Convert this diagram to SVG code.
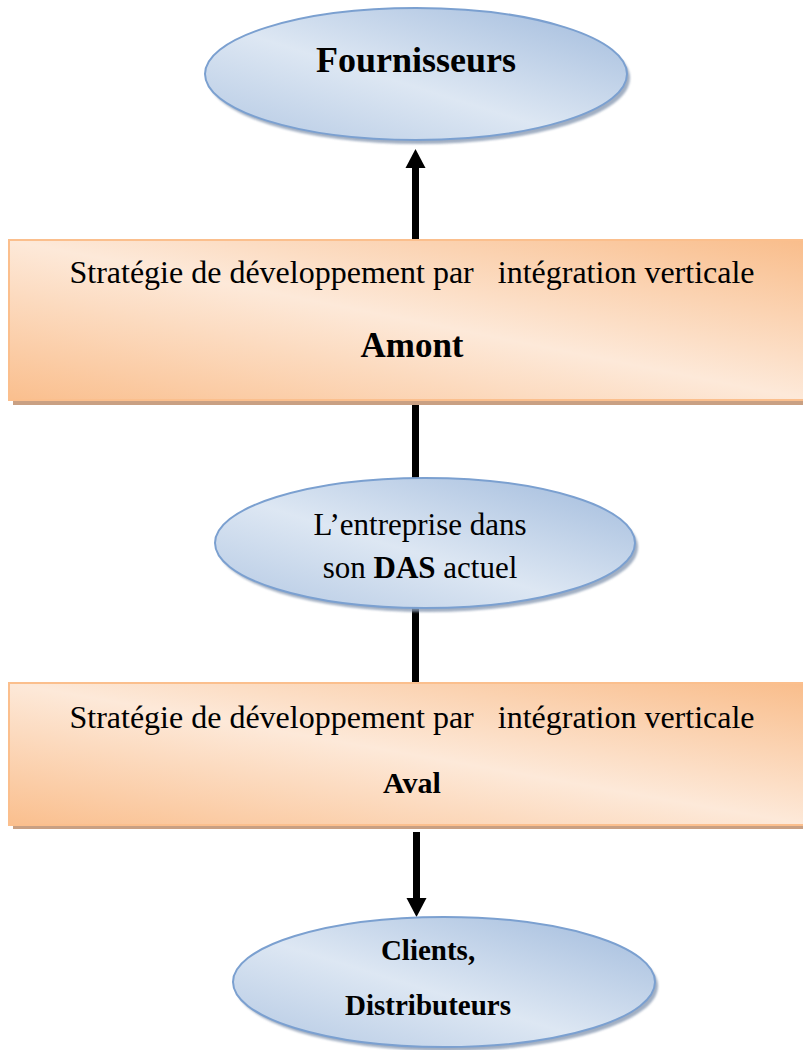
<svg xmlns="http://www.w3.org/2000/svg" width="803" height="1050" viewBox="0 0 803 1050">
<style>
.t{font-family:"Liberation Serif","Times New Roman",serif;fill:#000;text-anchor:middle}
.b{font-weight:bold}
.ell{fill:url(#gBlue);stroke:#7ba0d0;stroke-width:2}
.eshadow{fill:#8a9bb4;opacity:0.8}
.box{fill:url(#gPeach);stroke:#fbbf8d;stroke-width:2}
.bshadow{fill:#c9a083}
.ln{stroke:#000;stroke-width:7;fill:none}
</style>
<defs>
<linearGradient id="gBlue" x1="0" y1="1" x2="1" y2="0">
<stop offset="0" stop-color="#b3c8e3"/>
<stop offset="0.45" stop-color="#dde7f3"/>
<stop offset="1" stop-color="#a0badc"/>
</linearGradient>
<linearGradient id="gPeach" x1="0" y1="1" x2="1" y2="0">
<stop offset="0" stop-color="#fabf8e"/>
<stop offset="0.5" stop-color="#fde9d9"/>
<stop offset="1" stop-color="#f9bd8b"/>
</linearGradient>
<filter id="blur" x="-10%" y="-10%" width="120%" height="120%"><feGaussianBlur stdDeviation="1.2"/></filter>
</defs>

<g id="connectors">
<line class="ln" x1="415.5" y1="240" x2="415.5" y2="166"/>
<polygon points="405.5,168 425.5,168 415.5,149" fill="#000"/>
<line class="ln" x1="415.5" y1="400" x2="415.5" y2="478"/>
<line class="ln" x1="415.5" y1="608" x2="415.5" y2="684"/>
<line class="ln" x1="416.5" y1="832" x2="416.5" y2="900"/>
<polygon points="406.5,898 426.5,898 416.5,917" fill="#000"/>
</g>

<g id="fournisseurs">
<ellipse class="eshadow" cx="419" cy="78" rx="211" ry="66" filter="url(#blur)"/>
<ellipse class="ell" cx="416" cy="74" rx="211" ry="66"/>
<text class="t b" x="416" y="72" font-size="36">Fournisseurs</text>
</g>

<g id="amont">
<rect class="bshadow" x="13" y="244" width="800" height="161"/>
<rect class="box" x="9" y="240" width="800" height="160"/>
<text class="t" x="412" y="283" font-size="32">Stratégie de développement par&#160;&#160; intégration verticale</text>
<text class="t b" x="412" y="357" font-size="35">Amont</text>
</g>

<g id="entreprise">
<ellipse class="eshadow" cx="428" cy="547" rx="210" ry="65" filter="url(#blur)"/>
<ellipse class="ell" cx="425" cy="543" rx="210" ry="65"/>
<text class="t" x="420" y="535" font-size="31">L’entreprise dans</text>
<text class="t" x="420" y="578" font-size="31">son <tspan class="b">DAS</tspan> actuel</text>
</g>

<g id="aval">
<rect class="bshadow" x="13" y="687" width="800" height="142"/>
<rect class="box" x="9" y="683" width="800" height="142"/>
<text class="t" x="412" y="728" font-size="32">Stratégie de développement par&#160;&#160; intégration verticale</text>
<text class="t b" x="412" y="793" font-size="30">Aval</text>
</g>

<g id="clients">
<ellipse class="eshadow" cx="447" cy="986" rx="211" ry="65" filter="url(#blur)"/>
<ellipse class="ell" cx="444" cy="982" rx="211" ry="65"/>
<text class="t b" x="428" y="960" font-size="29">Clients,</text>
<text class="t b" x="428" y="1015" font-size="29">Distributeurs</text>
</g>
</svg>
